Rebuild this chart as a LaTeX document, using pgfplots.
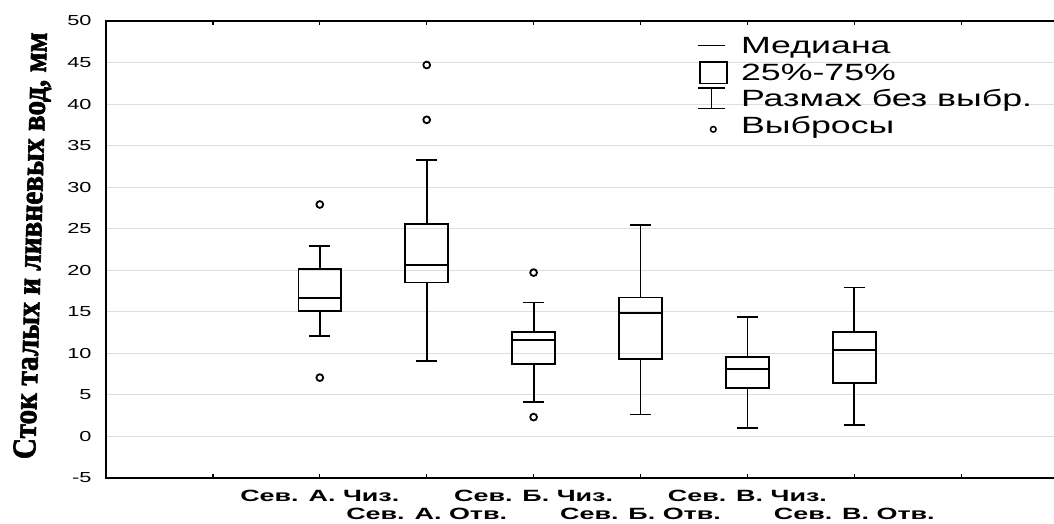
\documentclass[border=0pt]{standalone}
\usepackage{pgfplots}
\pgfplotsset{compat=1.18}
\usepgfplotslibrary{statistics}
\usepackage{fontspec}
\setmainfont{Liberation Sans}
\newfontfamily\labelserif{Liberation Serif}[BoldFeatures={FakeBold=2}]
\newcommand{\hs}[2]{\scalebox{#1}[1]{#2}}
\definecolor{gridgray}{RGB}{222,222,222}

\begin{document}
\begin{tikzpicture}[x=1pt,y=1pt]
\useasboundingbox (0,0) rectangle (1054,523);
\begin{axis}[
  at={(106pt,45.3pt)}, anchor=south west,
  scale only axis, width=951.4pt, height=456.7pt,
  xmin=-1, xmax=7.9, ymin=-5, ymax=50,
  axis line style={line width=1.6pt},
  ytick={-5,0,...,50},
  ytick style={draw=none},
  ymajorgrids, grid style={gridgray, line width=1pt},
  yticklabel={\hs{1.5}{\pgfmathprintnumber[assume math mode=true]{\tick}}},
  yticklabel style={font=\fontsize{14.5}{14.5}\selectfont, anchor=east, inner sep=0pt, xshift=-14.3pt},
  xtick={0,1,3,5,7},
  xticklabels={{},{\hs{1.65}{Сев. А. Чиз.}},{\hs{1.65}{Сев. Б. Чиз.}},{\hs{1.65}{Сев. В. Чиз.}},{}},
  extra x ticks={2,4,6},
  extra x tick labels={{\hs{1.65}{Сев. А. Отв.}},{\hs{1.65}{Сев. Б. Отв.}},{\hs{1.65}{Сев. В. Отв.}}},
  extra x tick style={xticklabel style={yshift=-17.6pt}},
  xticklabel style={font=\bfseries\fontsize{16.3}{16.3}\selectfont, anchor=base, inner sep=0pt, yshift=-24pt},
  tick align=inside, major tick length=4pt,
  xtick style={line width=1.2pt, black},
  ylabel={\resizebox{427pt}{22pt}{\labelserif\bfseries\fontsize{30}{30}\selectfont Сток талых и ливневых вод, мм}},
  ylabel style={at={(axis description cs:-0.0683,0.5073)}, anchor=base, rotate=-1.6, inner sep=0pt},
  legend style={at={(0.6216,0.9724)}, anchor=north west, draw=none, fill=none,
    inner sep=0pt, column sep=13pt, row sep=0pt,
    font=\fontsize{23.5}{23.5}\selectfont,
    nodes={inner sep=0pt, text height=19.7pt, text depth=7pt},
    cells={anchor=base west}},
  boxplot/draw direction=y,
  boxplot/box extend=0.4,
  boxplot/whisker extend=0.2,
]
% legend symbols
\addlegendimage{legend image code/.code={\draw[black, line width=1.4pt] (0pt,8.3pt) -- (27pt,8.3pt);}}
\addlegendentry{\hs{1.52}{Медиана}}
\addlegendimage{legend image code/.code={\draw[black, line width=1.6pt] (2pt,-3.3pt) rectangle (29pt,18.3pt);}}
\addlegendentry{\hs{1.52}{25\%-75\%}}
\addlegendimage{legend image code/.code={\draw[black, line width=1.4pt] (0pt,19pt) -- (27pt,19pt) (13.5pt,19pt) -- (13.5pt,-1.7pt) (0pt,-1.7pt) -- (27pt,-1.7pt);}}
\addlegendentry{\hs{1.52}{Размах без выбр.}}
\addlegendimage{legend image code/.code={\draw[black, line width=1.5pt] (15pt,4.3pt) circle (2.8pt);}}
\addlegendentry{\hs{1.52}{Выбросы}}

% boxes: lower whisker, Q1, median, Q3, upper whisker
\addplot[black, line width=1.8pt, forget plot, boxplot prepared={draw position=1,
  lower whisker=12.1, lower quartile=15.1, median=16.6, upper quartile=20.1, upper whisker=22.9}] coordinates {};
\addplot[black, line width=1.8pt, forget plot, boxplot prepared={draw position=2,
  lower whisker=9.1, lower quartile=18.5, median=20.6, upper quartile=25.6, upper whisker=33.3}] coordinates {};
\addplot[black, line width=1.8pt, forget plot, boxplot prepared={draw position=3,
  lower whisker=4.1, lower quartile=8.7, median=11.6, upper quartile=12.5, upper whisker=16.1}] coordinates {};
\addplot[black, line width=1.8pt, forget plot, boxplot prepared={draw position=4,
  lower whisker=2.6, lower quartile=9.3, median=14.8, upper quartile=16.7, upper whisker=25.4}] coordinates {};
\addplot[black, line width=1.8pt, forget plot, boxplot prepared={draw position=5,
  lower whisker=1.0, lower quartile=5.8, median=8.1, upper quartile=9.5, upper whisker=14.4}] coordinates {};
\addplot[black, line width=1.8pt, forget plot, boxplot prepared={draw position=6,
  lower whisker=1.3, lower quartile=6.4, median=10.4, upper quartile=12.5, upper whisker=17.9}] coordinates {};

% outliers
\addplot[only marks, forget plot, mark=o, mark size=3.4pt, mark options={black, line width=1.8pt}]
  coordinates {(1,27.9) (1,7.05) (2,44.7) (2,38.1) (3,19.7) (3,2.3)};
\end{axis}
\end{tikzpicture}
\end{document}
